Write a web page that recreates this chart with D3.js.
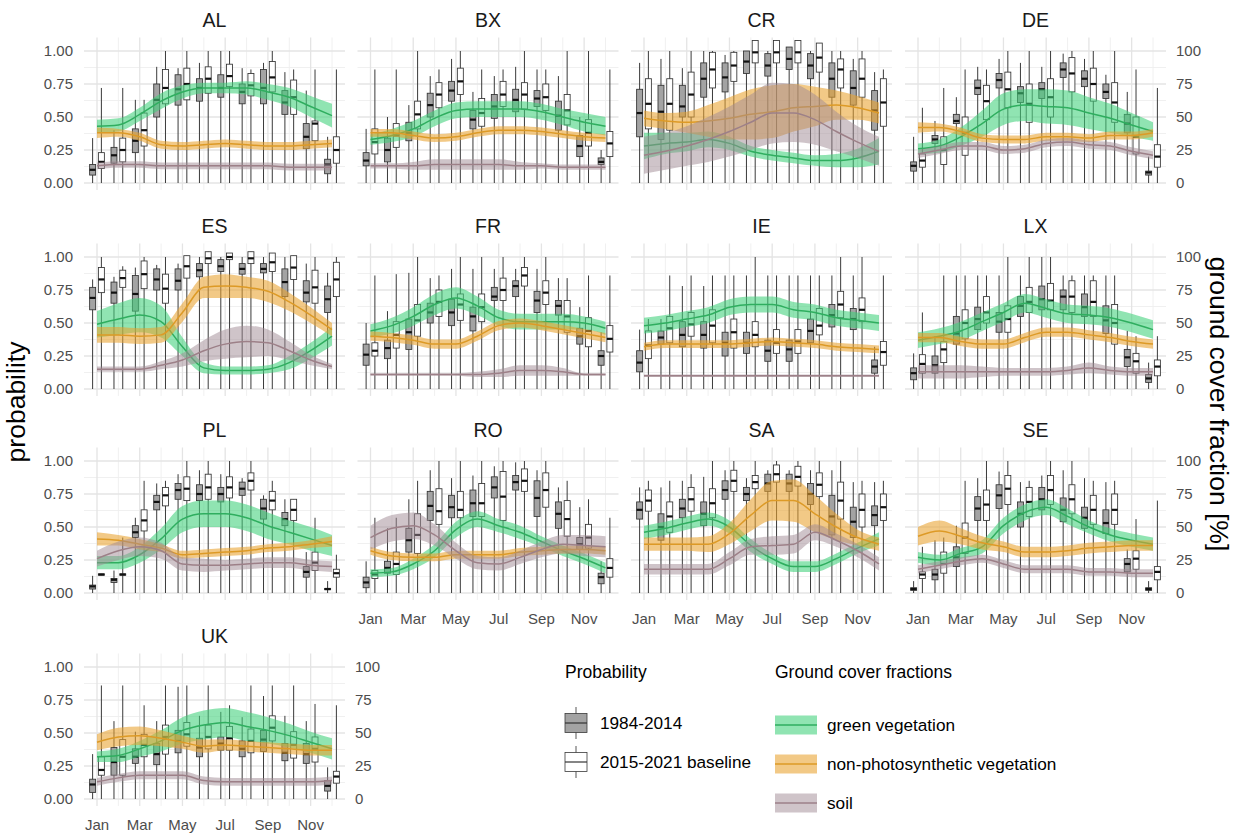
<!DOCTYPE html>
<html>
<head>
<meta charset="utf-8">
<title>Probability and ground cover fractions by region</title>
<script src="https://d3js.org/d3.v7.min.js"></script>
<style>
  body { margin: 0; background: #fff; }
  svg { display: block; font-family: 'Liberation Sans', Arial, sans-serif; }
  .tick { fill: #4d4d4d; font-size: 15px; }
  .strip { fill: #1a1a1a; font-size: 19.5px; }
  .axis-title { fill: #000; font-size: 26.5px; }
  .leg-title { fill: #000; font-size: 17.5px; }
  .leg-label { fill: #000; font-size: 17.2px; }
</style>
</head>
<body>
<svg width="1245" height="833"></svg>
<script>
const months = ['Jan','Feb','Mar','Apr','May','Jun','Jul','Aug','Sep','Oct','Nov','Dec'];
const regions = ['AL','BX','CR','DE','ES','FR','IE','LX','PL','RO','SA','SE','UK'];
const monthTicks = [1, 3, 5, 7, 9, 11];
const probTicks = [0, 0.25, 0.5, 0.75, 1];
const pctTicks = [0, 25, 50, 75, 100];

// boxplots per month: [lower whisker, q1, median, q3, upper whisker]
const probOld = {
  AL: [[0,.06,.10,.14,.34],[0,.15,.21,.27,.40],[0,.23,.32,.41,.63],[0,.50,.63,.75,.88],[0,.59,.71,.82,.87],[0,.62,.72,.79,.91],[0,.65,.72,.82,1],[0,.60,.69,.75,.87],[0,.60,.72,.86,.91],[0,.52,.61,.70,.84],[0,.26,.35,.45,.70],[0,.07,.14,.18,.35]],
  BX: [[0,.13,.17,.23,.41],[0,.16,.25,.34,.50],[0,.32,.38,.46,.59],[0,.50,.59,.68,.81],[0,.62,.70,.77,.94],[0,.41,.48,.55,.69],[0,.49,.58,.67,.81],[0,.54,.63,.71,.88],[0,.58,.64,.70,.86],[0,.40,.51,.62,.81],[0,.20,.28,.36,.50],[0,.14,.16,.19,.25]],
  CR: [[0,.35,.53,.71,.91],[0,.33,.54,.74,.94],[0,.50,.58,.74,.87],[0,.65,.79,.91,1],[0,.69,.80,.91,.97],[0,.83,.92,1,1],[0,.81,.89,.98,1],[0,.86,.94,1.03,1.03],[0,.79,.89,.98,1],[0,.65,.79,.91,1],[0,.59,.72,.85,.94],[0,.40,.55,.70,.84]],
  DE: [[0,.09,.13,.16,.35],[0,.30,.33,.36,.47],[0,.45,.47,.52,.65],[0,.67,.72,.78,.88],[0,.72,.78,.83,.94],[0,.61,.68,.73,.91],[0,.64,.71,.76,.88],[0,.80,.86,.91,.98],[0,.73,.79,.85,.94],[0,.64,.69,.75,.82],[0,.38,.45,.52,.69],[0,.06,.08,.09,.20]],
  ES: [[0,.60,.69,.77,.83],[0,.65,.73,.81,.85],[0,.59,.72,.86,.92],[0,.75,.83,.91,.94],[0,.75,.82,.91,.95],[0,.85,.90,.95,1],[0,.89,.93,.98,1],[0,.87,.91,.95,1],[0,.88,.91,.95,1],[0,.70,.81,.91,1],[0,.66,.73,.82,.95],[0,.58,.68,.78,.88]],
  FR: [[0,.18,.26,.34,.50],[0,.23,.31,.37,.59],[0,.30,.43,.53,.88],[0,.50,.58,.65,.84],[0,.48,.58,.68,.91],[0,.44,.55,.62,.91],[0,.67,.70,.77,.91],[0,.70,.78,.82,.91],[0,.58,.67,.74,.91],[0,.56,.63,.67,.84],[0,.34,.40,.46,.62],[0,.18,.25,.29,.43]],
  IE: [[0,.13,.20,.29,.45],[0,.34,.39,.44,.53],[0,.32,.41,.51,.78],[0,.31,.41,.51,.78],[0,.25,.35,.43,.86],[0,.27,.35,.43,.86],[0,.21,.29,.37,.86],[0,.21,.30,.37,.86],[0,.35,.44,.53,.86],[0,.47,.56,.64,.86],[0,.45,.53,.61,.86],[0,.12,.17,.22,.32]],
  LX: [[0,.07,.12,.16,.27],[0,.12,.18,.25,.40],[0,.34,.42,.55,.86],[0,.45,.53,.62,.86],[0,.43,.51,.58,.86],[0,.55,.63,.70,.86],[0,.60,.68,.78,1],[0,.60,.70,.75,.86],[0,.55,.62,.72,.86],[0,.42,.52,.63,.86],[0,.17,.24,.30,.44],[0,.05,.08,.11,.20]],
  PL: [[0,.03,.05,.06,.13],[0,.08,.10,.11,.17],[0,.42,.46,.51,.57],[0,.63,.69,.74,.83],[0,.71,.78,.83,.90],[0,.70,.75,.82,.93],[0,.69,.75,.80,.90],[0,.74,.79,.84,.87],[0,.56,.64,.71,.74],[0,.51,.56,.61,.71],[0,.12,.16,.20,.31],[0,.025,.03,.035,.09]],
  RO: [[0,.04,.08,.12,.24],[0,.15,.19,.24,.49],[0,.31,.40,.49,.71],[0,.55,.66,.77,.93],[0,.57,.65,.74,.87],[0,.58,.68,.78,.89],[0,.72,.80,.88,.96],[0,.78,.84,.89,.99],[0,.58,.72,.85,.93],[0,.49,.60,.69,.80],[0,.33,.37,.42,.65],[0,.07,.12,.15,.24]],
  SA: [[0,.56,.63,.69,.80],[0,.40,.50,.60,.80],[0,.57,.64,.71,.85],[0,.51,.60,.69,.88],[0,.71,.78,.85,.93],[0,.70,.75,.80,.87],[0,.77,.83,.90,.93],[0,.77,.83,.90,.93],[0,.67,.75,.83,.93],[0,.44,.58,.74,.93],[0,.42,.54,.65,.84],[0,.51,.59,.66,.84]],
  SE: [[0,.02,.03,.04,.09],[0,.10,.14,.18,.40],[0,.20,.27,.35,.51],[0,.55,.64,.73,.87],[0,.64,.74,.82,.92],[0,.50,.60,.69,.84],[0,.63,.71,.80,.89],[0,.54,.63,.72,.93],[0,.49,.57,.65,.87],[0,.45,.53,.63,.84],[0,.16,.22,.26,.33],[0,.02,.03,.04,.09]],
  UK: [[0,.05,.11,.15,.34],[0,.18,.28,.39,.59],[0,.27,.32,.38,.51],[0,.26,.34,.42,.59],[0,.35,.44,.52,.85],[0,.32,.39,.46,.63],[0,.37,.42,.47,.66],[0,.32,.38,.44,.62],[0,.36,.45,.52,.78],[0,.29,.35,.42,.63],[0,.27,.34,.42,.59],[0,.06,.10,.14,.24]]
};

const probNew = {
  AL: [[0,.11,.16,.23,.72],[0,.16,.25,.34,.72],[0,.28,.40,.53,.63],[0,.60,.72,.86,1],[0,.63,.75,.87,1],[0,.68,.79,.88,1],[0,.73,.81,.90,1],[0,.66,.74,.83,.86],[0,.69,.80,.92,1],[0,.52,.65,.78,.86],[0,.32,.45,.47,.86],[0,.15,.25,.35,.86]],
  BX: [[0,.22,.31,.41,.86],[0,.27,.36,.45,.86],[0,.41,.52,.62,1],[0,.57,.67,.76,.86],[0,.67,.77,.87,1],[0,.43,.53,.64,.86],[0,.58,.67,.77,.86],[0,.56,.67,.76,1],[0,.55,.65,.75,.86],[0,.44,.55,.67,1],[0,.28,.38,.48,1],[0,.20,.30,.39,.86]],
  CR: [[0,.41,.60,.79,1],[0,.40,.60,.79,1],[0,.50,.67,.84,1],[0,.72,.86,.99,1],[0,.77,.89,.99,1],[0,.91,.99,1.08,1.08],[0,.91,.99,1.08,1.08],[0,.91,.99,1.08,1.08],[0,.84,.95,1.06,1.06],[0,.72,.86,.94,1],[0,.65,.79,.94,1],[0,.43,.61,.79,.86]],
  DE: [[0,.12,.17,.22,.57],[0,.14,.25,.35,.72],[0,.21,.38,.50,.86],[0,.48,.62,.74,.86],[0,.57,.71,.84,1],[0,.46,.60,.75,1],[0,.50,.65,.79,1],[0,.69,.83,.95,1],[0,.62,.75,.87,1],[0,.46,.61,.76,1],[0,.22,.35,.50,.86],[0,.12,.20,.29,.72]],
  ES: [[0,.73,.83,.92,1],[0,.77,.84,.90,.93],[0,.76,.87,.97,1],[0,.65,.76,.87,1],[0,.84,.93,1.01,1.01],[0,.95,.99,1.04,1.04],[0,.98,1,1.03,1.03],[0,.95,.99,1.04,1.04],[0,.89,.96,1.03,1.03],[0,.83,.92,1.01,1.01],[0,.65,.77,.90,1],[0,.70,.83,.96,1]],
  FR: [[0,.25,.29,.35,.86],[0,.31,.41,.51,.87],[0,.40,.52,.64,1],[0,.55,.66,.75,.86],[0,.52,.64,.72,1],[0,.51,.62,.72,1],[0,.67,.75,.84,1],[0,.78,.86,.92,1],[0,.64,.73,.82,1],[0,.43,.55,.67,.84],[0,.32,.44,.54,.86],[0,.28,.38,.48,.86]],
  IE: [[0,.23,.33,.44,.53],[0,.35,.46,.55,.86],[0,.40,.49,.58,.86],[0,.35,.48,.60,.86],[0,.31,.43,.53,.86],[0,.32,.41,.51,1],[0,.27,.35,.45,.86],[0,.27,.36,.45,.86],[0,.41,.48,.61,.86],[0,.54,.64,.74,1],[0,.51,.60,.69,1],[0,.18,.28,.36,.86]],
  LX: [[0,.12,.19,.26,.58],[0,.20,.30,.36,.86],[0,.38,.50,.60,.86],[0,.50,.58,.70,.86],[0,.43,.53,.63,1],[0,.58,.66,.77,1],[0,.60,.67,.80,1],[0,.58,.70,.82,.86],[0,.55,.66,.82,.86],[0,.34,.50,.64,.86],[0,.12,.21,.27,.40],[0,.10,.17,.22,.40]],
  PL: [[.135,.135,.14,.145,.145],[0,.135,.14,.145,.42],[0,.47,.55,.63,.85],[0,.66,.74,.80,.85],[0,.70,.79,.88,1],[0,.71,.80,.90,1],[0,.72,.80,.88,1],[0,.78,.85,.91,1],[0,.63,.70,.77,.85],[0,.55,.63,.71,.71],[0,.17,.23,.31,.57],[0,.12,.15,.18,.29]],
  RO: [[0,.11,.14,.17,.57],[0,.14,.22,.31,.57],[0,.30,.44,.60,.85],[0,.52,.62,.79,1],[0,.57,.63,.77,1],[0,.58,.68,.83,1],[0,.55,.73,.92,1],[0,.77,.85,.94,1],[0,.65,.78,.91,1],[0,.43,.56,.70,.85],[0,.34,.42,.52,.71],[0,.12,.19,.26,.57]],
  SA: [[0,.62,.70,.78,.85],[0,.46,.58,.69,.85],[0,.62,.71,.80,.90],[0,.57,.68,.79,1],[0,.77,.85,.93,1],[0,.79,.84,.89,1],[0,.84,.90,.97,1],[0,.81,.88,.96,1],[0,.73,.82,.91,1],[0,.56,.70,.84,1],[0,.50,.63,.75,.85],[0,.55,.65,.75,.85]],
  SE: [[0,.11,.14,.16,.35],[0,.15,.22,.31,.42],[0,.30,.42,.53,.85],[0,.55,.67,.78,1],[0,.67,.79,.89,1],[0,.58,.69,.80,.85],[0,.67,.78,.89,1],[0,.60,.71,.82,1],[0,.52,.63,.74,.85],[0,.52,.63,.75,.85],[0,.18,.26,.32,.56],[0,.10,.16,.20,.70]],
  UK: [[0,.18,.22,.32,.86],[0,.18,.32,.45,.86],[0,.32,.41,.49,.71],[0,.34,.47,.56,.86],[0,.40,.49,.58,.86],[0,.38,.47,.56,.86],[0,.37,.46,.55,.71],[0,.35,.44,.53,.86],[0,.44,.54,.63,.86],[0,.31,.41,.51,.86],[0,.28,.38,.47,.72],[0,.12,.17,.21,.71]]
};

// ground cover fractions (0-1), monthly mean and ribbon half-width
const gvMean = {
  AL: [.43,.44,.52,.62,.69,.72,.72,.72,.69,.65,.58,.51],
  BX: [.33,.36,.41,.49,.55,.56,.56,.56,.54,.50,.46,.43],
  CR: [.28,.30,.31,.33,.30,.24,.21,.19,.17,.17,.19,.24],
  DE: [.26,.28,.35,.45,.56,.59,.58,.57,.53,.49,.44,.39],
  ES: [.49,.53,.56,.51,.32,.16,.14,.14,.15,.20,.29,.40],
  FR: [.44,.48,.55,.64,.69,.63,.54,.51,.51,.51,.50,.46],
  IE: [.48,.50,.53,.56,.62,.64,.64,.60,.58,.54,.52,.50],
  LX: [.37,.40,.44,.51,.58,.65,.61,.57,.56,.54,.50,.45],
  PL: [.23,.23,.29,.41,.56,.60,.60,.57,.51,.46,.41,.36],
  RO: [.15,.16,.22,.32,.48,.56,.51,.46,.39,.32,.26,.19],
  SA: [.46,.49,.53,.56,.50,.36,.26,.20,.20,.26,.34,.41],
  SE: [.27,.25,.30,.35,.51,.61,.65,.58,.50,.44,.40,.37],
  UK: [.32,.33,.38,.44,.52,.56,.58,.55,.52,.48,.43,.38]
};
const gvBand = {
  AL: [.05,.05,.05,.06,.05,.04,.04,.05,.06,.07,.08,.09],
  BX: [.04,.05,.06,.06,.06,.06,.06,.06,.06,.06,.07,.07],
  CR: [.10,.08,.07,.06,.05,.04,.04,.04,.04,.05,.07,.10],
  DE: [.04,.05,.07,.10,.12,.12,.13,.13,.12,.11,.09,.07],
  ES: [.10,.12,.13,.12,.07,.04,.03,.03,.03,.05,.06,.07],
  FR: [.05,.06,.07,.08,.08,.07,.06,.06,.06,.06,.05,.05],
  IE: [.06,.06,.06,.06,.06,.06,.06,.06,.06,.06,.06,.06],
  LX: [.06,.06,.07,.07,.07,.07,.07,.07,.07,.07,.07,.07],
  PL: [.05,.05,.06,.08,.10,.10,.10,.10,.10,.09,.09,.08],
  RO: [.03,.03,.04,.05,.06,.06,.05,.05,.04,.04,.04,.04],
  SA: [.05,.05,.05,.05,.05,.05,.04,.04,.04,.04,.04,.05],
  SE: [.04,.04,.04,.05,.06,.06,.06,.06,.05,.05,.05,.05],
  UK: [.04,.05,.06,.08,.10,.11,.11,.11,.10,.09,.08,.08]
};
const npvMean = {
  AL: [.38,.38,.35,.29,.28,.29,.30,.29,.28,.28,.29,.30],
  BX: [.38,.38,.36,.34,.35,.38,.40,.40,.39,.37,.35,.34],
  CR: [.49,.47,.46,.47,.49,.52,.54,.57,.58,.59,.57,.53],
  DE: [.42,.42,.39,.34,.33,.33,.35,.35,.34,.36,.36,.38],
  ES: [.41,.41,.40,.41,.58,.77,.78,.77,.74,.66,.56,.45],
  FR: [.40,.39,.37,.34,.34,.40,.48,.50,.48,.45,.42,.39],
  IE: [.32,.34,.34,.34,.34,.35,.36,.35,.34,.32,.31,.30],
  LX: [.39,.39,.36,.34,.34,.39,.43,.43,.41,.39,.36,.34],
  PL: [.41,.40,.37,.34,.29,.30,.31,.32,.34,.35,.37,.39],
  RO: [.32,.28,.27,.27,.29,.29,.29,.31,.32,.33,.33,.32],
  SA: [.37,.37,.37,.37,.45,.59,.70,.70,.60,.50,.42,.37],
  SE: [.43,.47,.43,.38,.35,.31,.31,.32,.34,.35,.36,.36],
  UK: [.43,.47,.48,.46,.43,.40,.41,.40,.39,.38,.37,.37]
};
const npvBand = {
  AL: [.04,.03,.03,.03,.03,.03,.03,.03,.03,.03,.03,.03],
  BX: [.03,.03,.03,.03,.03,.03,.03,.03,.03,.03,.03,.03],
  CR: [.06,.06,.08,.12,.16,.19,.20,.18,.15,.11,.09,.08],
  DE: [.04,.03,.03,.03,.03,.03,.03,.03,.03,.03,.03,.03],
  ES: [.06,.06,.06,.06,.07,.08,.09,.08,.08,.07,.06,.05],
  FR: [.035,.035,.035,.035,.035,.035,.035,.035,.035,.035,.035,.035],
  IE: [.03,.03,.03,.03,.03,.03,.03,.03,.03,.03,.03,.03],
  LX: [.035,.035,.035,.035,.035,.035,.035,.035,.035,.035,.035,.035],
  PL: [.05,.04,.04,.03,.03,.03,.03,.03,.03,.03,.03,.04],
  RO: [.03,.03,.03,.03,.03,.03,.03,.03,.03,.03,.03,.03],
  SA: [.05,.05,.05,.06,.08,.12,.15,.16,.14,.10,.06,.05],
  SE: [.07,.08,.06,.05,.04,.04,.04,.04,.04,.04,.04,.04],
  UK: [.06,.07,.07,.06,.05,.05,.04,.04,.04,.04,.04,.04]
};
const soilMean = {
  AL: [.13,.14,.14,.13,.13,.13,.13,.13,.13,.12,.12,.12],
  BX: [.13,.13,.13,.14,.14,.14,.14,.13,.13,.12,.12,.12],
  CR: [.21,.24,.28,.33,.39,.46,.53,.53,.48,.39,.31,.24],
  DE: [.22,.25,.28,.28,.25,.26,.30,.31,.29,.28,.24,.21],
  ES: [.15,.15,.15,.18,.22,.29,.34,.36,.35,.29,.22,.17],
  FR: [.11,.11,.11,.11,.11,.11,.12,.14,.14,.13,.11,.11],
  IE: [.10,.10,.10,.10,.10,.10,.10,.10,.10,.10,.10,.10],
  LX: [.13,.13,.13,.13,.13,.13,.13,.14,.16,.14,.13,.13],
  PL: [.26,.32,.35,.32,.22,.21,.21,.22,.23,.23,.21,.20],
  RO: [.42,.49,.51,.44,.32,.23,.22,.27,.33,.37,.36,.35],
  SA: [.18,.18,.18,.18,.26,.35,.36,.37,.46,.40,.32,.22],
  SE: [.18,.21,.24,.26,.22,.18,.18,.18,.16,.16,.15,.15],
  UK: [.13,.16,.18,.18,.18,.14,.13,.13,.13,.13,.13,.14]
};
const soilBand = {
  AL: [.025,.025,.025,.025,.025,.025,.025,.025,.025,.025,.025,.025],
  BX: [.02,.02,.03,.04,.04,.04,.04,.03,.02,.02,.02,.02],
  CR: [.14,.14,.15,.17,.19,.21,.23,.22,.19,.15,.12,.11],
  DE: [.03,.03,.03,.03,.03,.03,.03,.03,.03,.03,.03,.03],
  ES: [.02,.02,.02,.03,.05,.08,.11,.12,.10,.07,.04,.02],
  FR: [.01,.01,.01,.01,.01,.02,.03,.04,.04,.03,.01,.01],
  IE: [.01,.01,.01,.01,.01,.01,.01,.01,.01,.01,.01,.01],
  LX: [.05,.05,.05,.04,.03,.03,.03,.03,.04,.03,.03,.03],
  PL: [.06,.07,.07,.06,.05,.05,.04,.04,.04,.04,.04,.04],
  RO: [.09,.10,.10,.08,.06,.05,.05,.05,.06,.07,.08,.08],
  SA: [.04,.04,.04,.04,.05,.06,.07,.07,.06,.05,.05,.05],
  SE: [.03,.03,.03,.03,.03,.03,.03,.03,.03,.03,.03,.03],
  UK: [.03,.03,.03,.03,.03,.03,.03,.03,.03,.03,.03,.03]
};

const covers = [
  { name: 'green vegetation', mean: gvMean, band: gvBand, line: '#2fae5f', fill: '#3fd07a', op: 0.58 },
  { name: 'non-photosynthetic vegetation', mean: npvMean, band: npvBand, line: '#dd9a26', fill: '#e8a22e', op: 0.58 },
  { name: 'soil', mean: soilMean, band: soilBand, line: '#9d8088', fill: '#a08a94', op: 0.5 }
];

const svg = d3.select('svg');
const colX = [84, 357.5, 631, 905];
const rowY = [51, 257, 461, 667];
const panelW = 261, unitH = 132;
const dodge = 0.205, boxW = 0.28;

regions.forEach((reg, i) => {
  const row = Math.floor(i / 4), col = i % 4;
  const x0 = colX[col], top = rowY[row];
  const x = d3.scaleLinear().domain([1, 12]).range([x0 + 13, x0 + panelW - 13]);
  const y = d3.scaleLinear().domain([0, 1]).range([top + unitH, top]);
  const g = svg.append('g');
  const yT = y(1.1025), yB = y(-0.0525);

  // grid
  g.selectAll('.hmin').data([0.125, 0.375, 0.625, 0.875]).enter().append('line')
    .attr('x1', x0).attr('x2', x0 + panelW).attr('y1', d => y(d)).attr('y2', d => y(d))
    .attr('stroke', '#eeeeee').attr('stroke-width', 0.9);
  g.selectAll('.vmin').data([2, 4, 6, 8, 10, 12]).enter().append('line')
    .attr('y1', yT).attr('y2', yB).attr('x1', d => x(d)).attr('x2', d => x(d))
    .attr('stroke', '#eeeeee').attr('stroke-width', 0.9);
  g.selectAll('.hmaj').data(probTicks).enter().append('line')
    .attr('x1', x0).attr('x2', x0 + panelW).attr('y1', d => y(d)).attr('y2', d => y(d))
    .attr('stroke', '#e4e4e4').attr('stroke-width', 1.3);
  g.selectAll('.vmaj').data(monthTicks).enter().append('line')
    .attr('y1', yT).attr('y2', yB).attr('x1', d => x(d)).attr('x2', d => x(d))
    .attr('stroke', '#e4e4e4').attr('stroke-width', 1.3);

  // boxplots
  const boxes = [];
  probOld[reg].forEach((b, m) => boxes.push({ m: m + 1 - dodge, b, fill: '#a3a3a3' }));
  probNew[reg].forEach((b, m) => boxes.push({ m: m + 1 + dodge, b, fill: '#ffffff' }));
  const bw = x(1 + boxW) - x(1);
  const bx = g.selectAll('.box').data(boxes).enter().append('g');
  bx.append('line')
    .attr('x1', d => x(d.m)).attr('x2', d => x(d.m))
    .attr('y1', d => y(d.b[0])).attr('y2', d => y(d.b[4]))
    .attr('stroke', '#3a3a3a').attr('stroke-width', 1);
  bx.append('rect')
    .attr('x', d => x(d.m) - bw / 2).attr('width', bw)
    .attr('y', d => y(d.b[3])).attr('height', d => Math.max(0.6, y(d.b[1]) - y(d.b[3])))
    .attr('fill', d => d.fill).attr('stroke', '#333').attr('stroke-width', 0.85);
  bx.append('line')
    .attr('x1', d => x(d.m) - bw / 2).attr('x2', d => x(d.m) + bw / 2)
    .attr('y1', d => y(d.b[2])).attr('y2', d => y(d.b[2]))
    .attr('stroke', '#111').attr('stroke-width', 2.2);

  // ground cover ribbons and lines
  covers.forEach(c => {
    const pts = c.mean[reg].map((v, m) => ({ m: m + 1, v, w: c.band[reg][m] }));
    g.append('path').datum(pts)
      .attr('d', d3.area().curve(d3.curveMonotoneX)
        .x(d => x(d.m)).y0(d => y(d.v - d.w)).y1(d => y(d.v + d.w)))
      .attr('fill', c.fill).attr('fill-opacity', c.op);
    g.append('path').datum(pts)
      .attr('d', d3.line().curve(d3.curveMonotoneX).x(d => x(d.m)).y(d => y(d.v)))
      .attr('fill', 'none').attr('stroke', c.line).attr('stroke-width', 1.5);
  });

  // strip title
  g.append('text').attr('class', 'strip')
    .attr('x', x0 + panelW / 2).attr('y', top - 31).attr('dy', '0.35em')
    .attr('text-anchor', 'middle').text(reg);

  if (col === 0) {
    g.selectAll('.yl').data(probTicks).enter().append('text').attr('class', 'tick')
      .attr('x', x0 - 11).attr('y', d => y(d)).attr('dy', '0.35em')
      .attr('text-anchor', 'end').text(d3.format('.2f'));
  }
  if (col === 3 || reg === 'UK') {
    g.selectAll('.yr').data(pctTicks).enter().append('text').attr('class', 'tick')
      .attr('x', x0 + panelW + 10).attr('y', d => y(d / 100)).attr('dy', '0.35em')
      .text(d => d);
  }
  if (row === 3 || (row === 2 && col > 0)) {
    g.selectAll('.xl').data(monthTicks).enter().append('text').attr('class', 'tick')
      .attr('x', d => x(d)).attr('y', y(0) + 26).attr('dy', '0.35em')
      .attr('text-anchor', 'middle').text(d => months[d - 1]);
  }
});

// axis titles
svg.append('text').attr('class', 'axis-title')
  .attr('transform', 'translate(16,402) rotate(-90)')
  .attr('text-anchor', 'middle').attr('dy', '0.35em').text('probability');
svg.append('text').attr('class', 'axis-title')
  .attr('transform', 'translate(1219,404) rotate(90)')
  .attr('text-anchor', 'middle').attr('dy', '0.35em').text('ground cover fraction [%]');

// legend: probability
const leg1 = svg.append('g');
leg1.append('text').attr('class', 'leg-title').attr('x', 565).attr('y', 672).attr('dy', '0.35em').text('Probability');
const probLegend = [{ label: '1984-2014', fill: '#a3a3a3', cy: 723 }, { label: '2015-2021 baseline', fill: '#ffffff', cy: 762 }];
probLegend.forEach(d => {
  leg1.append('line').attr('x1', 576).attr('x2', 576).attr('y1', d.cy - 16).attr('y2', d.cy + 16)
    .attr('stroke', '#444').attr('stroke-width', 0.9);
  leg1.append('rect').attr('x', 565).attr('y', d.cy - 9.5).attr('width', 22).attr('height', 19)
    .attr('fill', d.fill).attr('stroke', '#3a3a3a').attr('stroke-width', 0.8);
  leg1.append('line').attr('x1', 565).attr('x2', 587).attr('y1', d.cy).attr('y2', d.cy)
    .attr('stroke', '#333').attr('stroke-width', 1.2);
  leg1.append('text').attr('class', 'leg-label').attr('x', 600).attr('y', d.cy).attr('dy', '0.35em').text(d.label);
});

// legend: ground cover
const leg2 = svg.append('g');
leg2.append('text').attr('class', 'leg-title').attr('x', 775).attr('y', 672).attr('dy', '0.35em').text('Ground cover fractions');
const coverY = [725, 764, 803];
covers.forEach((c, k) => {
  const cy = coverY[k];
  leg2.append('rect').attr('x', 775).attr('y', cy - 9.5).attr('width', 42).attr('height', 19)
    .attr('fill', c.fill).attr('fill-opacity', c.op);
  leg2.append('line').attr('x1', 775).attr('x2', 817).attr('y1', cy).attr('y2', cy)
    .attr('stroke', c.line).attr('stroke-width', 1.4);
  leg2.append('text').attr('class', 'leg-label').attr('x', 827).attr('y', cy).attr('dy', '0.35em').text(c.name);
});
</script>
</body>
</html>
